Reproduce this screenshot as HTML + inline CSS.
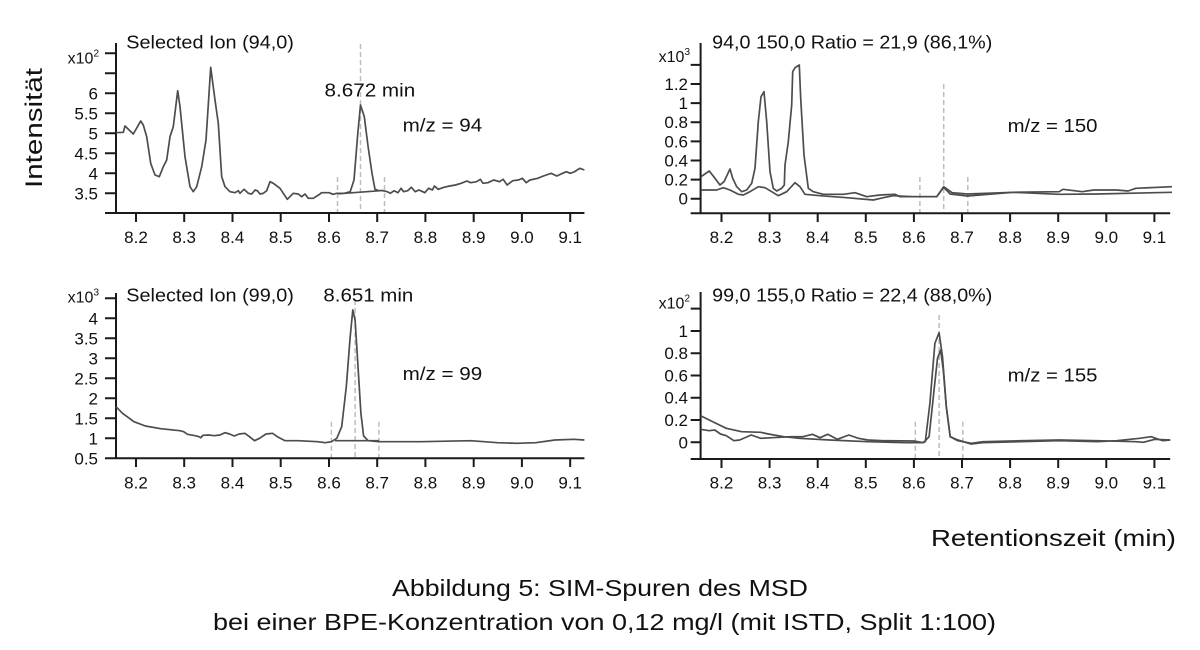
<!DOCTYPE html>
<html>
<head>
<meta charset="utf-8">
<style>
  html,body{margin:0;padding:0;background:#fff;}
  svg{display:block;}
  text{font-family:"Liberation Sans", "DejaVu Sans", sans-serif; fill:#111;}
  .tk{font-size:17px;}
  .ax{stroke:#1a1a1a;stroke-width:2;fill:none;}
  .cv{stroke:#4d4d4d;stroke-width:1.7;fill:none;stroke-linejoin:round;}
  .ds{stroke:#bdbdbd;stroke-width:1.5;stroke-dasharray:5,3;fill:none;}
</style>
</head>
<body>
<svg width="1200" height="650" viewBox="0 0 1200 650" xmlns="http://www.w3.org/2000/svg">
<rect width="1200" height="650" fill="#fff"/>

<!-- Y axis title -->
<text transform="translate(42,128) rotate(-90)" text-anchor="middle" font-size="24" textLength="120" lengthAdjust="spacingAndGlyphs">Intensität</text>

<!-- ================= PANEL 1 (top-left) ================= -->
<g>
  <path class="ds" d="M337.5,177 V213 M360.5,44 V213 M384.5,177 V213"/>
  <path class="ax" d="M116,43 V213 M105,213 H584.4"/>
  <path class="ax" d="M105,193.3H116 M105,173.3H116 M105,153.3H116 M105,133.3H116 M105,113.3H116 M105,93.3H116 M105,73.3H116 M105,53.3H116"/>
  <path class="ax" d="M136,213V222 M184.2,213V222 M232.5,213V222 M280.7,213V222 M329,213V222 M377.2,213V222 M425.4,213V222 M473.7,213V222 M521.9,213V222 M570.2,213V222"/>
  <g class="tk" text-anchor="end">
    <text x="98" y="199.3">3.5</text>
    <text x="98" y="179.3">4</text>
    <text x="98" y="159.3">4.5</text>
    <text x="98" y="139.3">5</text>
    <text x="98" y="119.3">5.5</text>
    <text x="98" y="99.3">6</text>
    <text x="99" y="63.3" font-size="16">x10<tspan dy="-7" font-size="10">2</tspan></text>
  </g>
  <g class="tk" text-anchor="middle">
    <text x="136" y="243">8.2</text>
    <text x="184.2" y="243">8.3</text>
    <text x="232.5" y="243">8.4</text>
    <text x="280.7" y="243">8.5</text>
    <text x="329" y="243">8.6</text>
    <text x="377.2" y="243">8.7</text>
    <text x="425.4" y="243">8.8</text>
    <text x="473.7" y="243">8.9</text>
    <text x="521.9" y="243">9.0</text>
    <text x="570.2" y="243">9.1</text>
  </g>
  <text x="126.3" y="48.3" font-size="18" textLength="167.6" lengthAdjust="spacingAndGlyphs">Selected Ion (94,0)</text>
  <text x="324.5" y="96.7" font-size="18" textLength="90.7" lengthAdjust="spacingAndGlyphs">8.672 min</text>
  <text x="402.6" y="131.7" font-size="18" textLength="79.6" lengthAdjust="spacingAndGlyphs">m/z = 94</text>
  <path class="cv" d="M116,132.7 L123.3,132.3 L125,126 L133.3,134 L140.7,121 L143.3,125 L146.7,136.7 L150.7,163.3 L155,175 L159.3,176.7 L163.3,166.7 L166.7,160 L170,136.7 L173.3,126.7 L177.7,90.7 L180,106.7 L185,156.7 L190,186.7 L193.3,191.7 L196.7,186.7 L201.7,166.7 L206,140 L210.7,67.3 L215,100 L218.3,123.3 L221.7,176.7 L225,186.7 L230,191.7 L235,192.7 L238.3,190.7 L240,193.3 L244,189.3 L248.3,193.3 L251.7,194 L255,190 L257.3,190.7 L260,194 L263.3,193.3 L266.7,190.7 L270,181.7 L273.3,183.3 L280,188.3 L283.3,193.3 L287.3,199.3 L293.3,193.3 L298.3,194 L301.7,196.7 L305,194 L308.3,198.3 L313.3,198.3 L320,194 L321.5,192.7 L329.1,192.7 L333,194.3 L336.8,193.3 L344.4,193.3 L350.2,191.7 L354,180 L357.8,133.3 L360.5,105 L364.3,116.7 L368.1,146.7 L372,173.3 L375,189.3 L378.9,190.7 L382.7,190.7 L387.3,191.7 L390.3,193.3 L394.2,190.7 L398,192.7 L401,188.3 L403.7,191.7 L407.6,190.7 L411.4,187.3 L415.2,191.7 L419,190 L424.8,192.7 L428.6,188.3 L432.4,190 L434.4,186 L438.2,189.3 L443.9,187.3 L449.7,186 L455.4,185 L461.1,183.3 L466.9,181 L470.7,182.7 L476.5,181.7 L480.3,179.3 L483,183.3 L487.9,182.7 L493.7,180 L499.4,181.7 L503.2,179.3 L507.1,185 L512.8,180.7 L518.5,180 L522.4,178.3 L526.2,182.7 L530,180 L537.7,178.3 L543.4,176 L551.1,173.3 L556.8,176 L562.5,173.3 L566.4,171.7 L570.2,173.3 L574,172 L579.8,168.3 L584.4,170"/>
  <path class="cv" d="M338,193.8 L383,190.5"/>
</g>

<!-- ================= PANEL 2 (top-right) ================= -->
<g>
  <path class="ds" d="M919.9,177 V213 M943.7,84 V213 M967.8,177 V213"/>
  <path class="ax" d="M700.6,43 V213.3 M690.7,213.3 H1170.2"/>
  <path class="ax" d="M690.7,198.7H700.6 M690.7,179.6H700.6 M690.7,160.5H700.6 M690.7,141.4H700.6 M690.7,122.2H700.6 M690.7,103.1H700.6 M690.7,84H700.6 M690.7,64.9H700.6"/>
  <path class="ax" d="M721.5,213V222 M769.6,213V222 M817.7,213V222 M865.8,213V222 M913.9,213V222 M962,213V222 M1010.1,213V222 M1058.2,213V222 M1106.3,213V222 M1154.4,213V222"/>
  <g class="tk" text-anchor="end">
    <text x="688" y="204.7">0</text>
    <text x="688" y="185.6">0.2</text>
    <text x="688" y="166.5">0.4</text>
    <text x="688" y="147.4">0.6</text>
    <text x="688" y="128.2">0.8</text>
    <text x="688" y="109.1">1</text>
    <text x="688" y="90">1.2</text>
    <text x="690" y="62" font-size="16">x10<tspan dy="-7" font-size="10">3</tspan></text>
  </g>
  <g class="tk" text-anchor="middle">
    <text x="721.5" y="243">8.2</text>
    <text x="769.6" y="243">8.3</text>
    <text x="817.7" y="243">8.4</text>
    <text x="865.8" y="243">8.5</text>
    <text x="913.9" y="243">8.6</text>
    <text x="962" y="243">8.7</text>
    <text x="1010.1" y="243">8.8</text>
    <text x="1058.2" y="243">8.9</text>
    <text x="1106.3" y="243">9.0</text>
    <text x="1154.4" y="243">9.1</text>
  </g>
  <text x="712.1" y="48.3" font-size="18" textLength="280.2" lengthAdjust="spacingAndGlyphs">94,0 150,0 Ratio = 21,9 (86,1%)</text>
  <text x="1007.6" y="132" font-size="18" textLength="89.9" lengthAdjust="spacingAndGlyphs">m/z = 150</text>
  <path class="cv" d="M701,176.7 L709.3,171 L715,178.3 L720,185 L724,181.7 L730,169 L732.7,178.3 L736.7,186.7 L741.7,191.7 L746.7,190 L751.7,183.3 L755,168.3 L758.3,121.7 L761,96.7 L764,91.7 L766.7,121.7 L770,171.7 L773.3,188.3 L776.7,191 L781.7,188.3 L784.3,185 L785,165 L788.3,141.7 L791.7,105 L792.7,71.7 L795,67.7 L799.3,65 L800.7,98.3 L804,155 L808.3,188.3 L813.3,191.7 L823.3,194.3 L843.3,194.3 L855,192.7 L866.7,196.7 L880,195 L895,194.3 L900,196.7 L913.3,196.7 L936.7,196.7 L943.7,186.7 L952.1,192.7 L967.4,194 L1013.3,192.3 L1059.2,191.7 L1063,189.3 L1082.2,191.7 L1093.7,190 L1116.6,190 L1128.1,191 L1135.8,188.3 L1172,186.7"/>
  <path class="cv" d="M701,190 L716.7,190 L723.3,187.7 L730,190 L738.3,194.3 L743.3,195 L750,191.7 L758.3,186.7 L765,187.7 L771.7,191.7 L778.3,195.7 L786.7,191.7 L795,182.7 L800,186.7 L805,194.3 L820,195.7 L846.7,197.7 L873.3,200 L883.3,197.7 L893.3,195.7 L913.3,196.7 L936.7,196.7 L943.7,187.3 L950.2,194 L967.4,196 L1013.3,192.3 L1059.2,194.3 L1097.5,194 L1172,192.3"/>
</g>

<!-- ================= PANEL 3 (bottom-left) ================= -->
<g>
  <path class="ds" d="M331.4,421.7 V458 M355.1,300 V458 M378.9,421.7 V458"/>
  <path class="ax" d="M116,293 V458.3 M105,458.3 H584.4"/>
  <path class="ax" d="M105,438.3H116 M105,418.3H116 M105,398.3H116 M105,378.3H116 M105,358.3H116 M105,338.3H116 M105,318.3H116 M105,298.3H116"/>
  <path class="ax" d="M136,458V467 M184.2,458V467 M232.5,458V467 M280.7,458V467 M329,458V467 M377.2,458V467 M425.4,458V467 M473.7,458V467 M521.9,458V467 M570.2,458V467"/>
  <g class="tk" text-anchor="end">
    <text x="98" y="464.3">0.5</text>
    <text x="98" y="444.3">1</text>
    <text x="98" y="424.3">1.5</text>
    <text x="98" y="404.3">2</text>
    <text x="98" y="384.3">2.5</text>
    <text x="98" y="364.3">3</text>
    <text x="98" y="344.3">3.5</text>
    <text x="98" y="324.3">4</text>
    <text x="99" y="302.5" font-size="16">x10<tspan dy="-7" font-size="10">3</tspan></text>
  </g>
  <g class="tk" text-anchor="middle">
    <text x="136" y="488.3">8.2</text>
    <text x="184.2" y="488.3">8.3</text>
    <text x="232.5" y="488.3">8.4</text>
    <text x="280.7" y="488.3">8.5</text>
    <text x="329" y="488.3">8.6</text>
    <text x="377.2" y="488.3">8.7</text>
    <text x="425.4" y="488.3">8.8</text>
    <text x="473.7" y="488.3">8.9</text>
    <text x="521.9" y="488.3">9.0</text>
    <text x="570.2" y="488.3">9.1</text>
  </g>
  <text x="126.3" y="301.7" font-size="18" textLength="167.6" lengthAdjust="spacingAndGlyphs">Selected Ion (99,0)</text>
  <text x="323.4" y="301.7" font-size="18" textLength="89.9" lengthAdjust="spacingAndGlyphs">8.651 min</text>
  <text x="402.6" y="380" font-size="18" textLength="79.6" lengthAdjust="spacingAndGlyphs">m/z = 99</text>
  <path class="cv" d="M116,406.7 L122.5,413.3 L133.9,421.7 L145.4,426 L160.7,428.7 L179.9,430.7 L183.7,431.7 L187.5,434.3 L195.2,435.7 L199,436.7 L200.9,437.7 L202.8,435.3 L208.6,435 L214.3,435.7 L220,435 L225,432.7 L229.6,434 L234.2,436 L239.2,434 L244.9,433.3 L249.5,436.7 L254.5,440.7 L259.5,438.3 L266,434 L272.5,433.3 L277.4,436.7 L285.1,440.7 L298.5,440.7 L317.6,441.7 L325.3,442.7 L331.4,441.7 L336.8,438.3 L341.7,426.7 L346.3,386.7 L350.2,336.7 L352.8,310 L355.1,320 L357.8,363.3 L360.9,413.3 L363.6,436 L368.1,440.7 L378.9,441.7 L421,441.7 L470.7,440.7 L497.5,442.7 L516.6,443.3 L535.8,442.7 L554.9,440 L574,439.3 L584.4,440"/>
  <path class="cv" d="M335,440.7 L379,440.7"/>
</g>

<!-- ================= PANEL 4 (bottom-right) ================= -->
<g>
  <path class="ds" d="M915.3,421.7 V459 M939.1,315 V459 M962.8,421.7 V459"/>
  <path class="ax" d="M700.6,292 V459 M690.7,459 H1170.2"/>
  <path class="ax" d="M690.7,442.3H700.6 M690.7,420H700.6 M690.7,397.7H700.6 M690.7,375.5H700.6 M690.7,353.2H700.6 M690.7,331H700.6 M690.7,308.6H700.6"/>
  <path class="ax" d="M721.5,459V468 M769.6,459V468 M817.7,459V468 M865.8,459V468 M913.9,459V468 M962,459V468 M1010.1,459V468 M1058.2,459V468 M1106.3,459V468 M1154.4,459V468"/>
  <g class="tk" text-anchor="end">
    <text x="688" y="448.3">0</text>
    <text x="688" y="426">0.2</text>
    <text x="688" y="403.7">0.4</text>
    <text x="688" y="381.5">0.6</text>
    <text x="688" y="359.2">0.8</text>
    <text x="688" y="337">1</text>
    <text x="690" y="308.3" font-size="16">x10<tspan dy="-7" font-size="10">2</tspan></text>
  </g>
  <g class="tk" text-anchor="middle">
    <text x="721.5" y="488.3">8.2</text>
    <text x="769.6" y="488.3">8.3</text>
    <text x="817.7" y="488.3">8.4</text>
    <text x="865.8" y="488.3">8.5</text>
    <text x="913.9" y="488.3">8.6</text>
    <text x="962" y="488.3">8.7</text>
    <text x="1010.1" y="488.3">8.8</text>
    <text x="1058.2" y="488.3">8.9</text>
    <text x="1106.3" y="488.3">9.0</text>
    <text x="1154.4" y="488.3">9.1</text>
  </g>
  <text x="712.1" y="301.7" font-size="18" textLength="280.2" lengthAdjust="spacingAndGlyphs">99,0 155,0 Ratio = 22,4 (88,0%)</text>
  <text x="1007.6" y="381.7" font-size="18" textLength="89.9" lengthAdjust="spacingAndGlyphs">m/z = 155</text>
  <path class="cv" d="M700.6,415.7 L714.8,422.7 L726.3,428.3 L741.6,431.7 L760.7,432.3 L768.4,434 L783.7,436.7 L799,438.3 L829.6,440 L867.9,441.7 L906.2,442.7 L921.5,442.7 L925.3,441.7 L929.9,403.3 L934.9,343.3 L939.1,332.7 L942.5,356.7 L946.3,406.7 L950.2,436.7 L957.8,440 L971.2,444 L982.7,442.7 L1021,441.7 L1059.2,440.7 L1097.5,441.7 L1116.6,440.7 L1139.6,438.3 L1151.1,436.7 L1162.6,440.7 L1170.2,440"/>
  <path class="cv" d="M700.6,429.3 L709.1,430.7 L714.8,430 L720.5,434 L726.3,435.7 L733.9,440.7 L739.7,440 L751.2,435 L760.7,438.3 L772.2,437.7 L791.3,436.7 L802.8,436.7 L812.4,434.3 L820,437.7 L827.7,434.3 L837.3,439.3 L848.8,435 L858.4,438.3 L867.9,440 L883.2,440.7 L913.8,441 L923.4,442.7 L929.1,436.7 L933.7,393.3 L937.5,358.3 L940.6,350 L943.3,370 L946.3,406.7 L950.2,436.7 L957.8,440.7 L971.2,443.3 L982.7,441.7 L1021,440.7 L1059.2,440 L1097.5,440.7 L1135.8,441.7 L1143.4,442.3 L1154.9,439.3 L1170.2,440"/>
</g>

<!-- X axis title and caption -->
<text x="931" y="546" font-size="23" textLength="245" lengthAdjust="spacingAndGlyphs">Retentionszeit (min)</text>
<text x="392" y="596" font-size="23" textLength="416" lengthAdjust="spacingAndGlyphs">Abbildung 5: SIM-Spuren des MSD</text>
<text x="213" y="630" font-size="23" textLength="783" lengthAdjust="spacingAndGlyphs">bei einer BPE-Konzentration von 0,12 mg/l (mit ISTD, Split 1:100)</text>
</svg>
</body>
</html>
